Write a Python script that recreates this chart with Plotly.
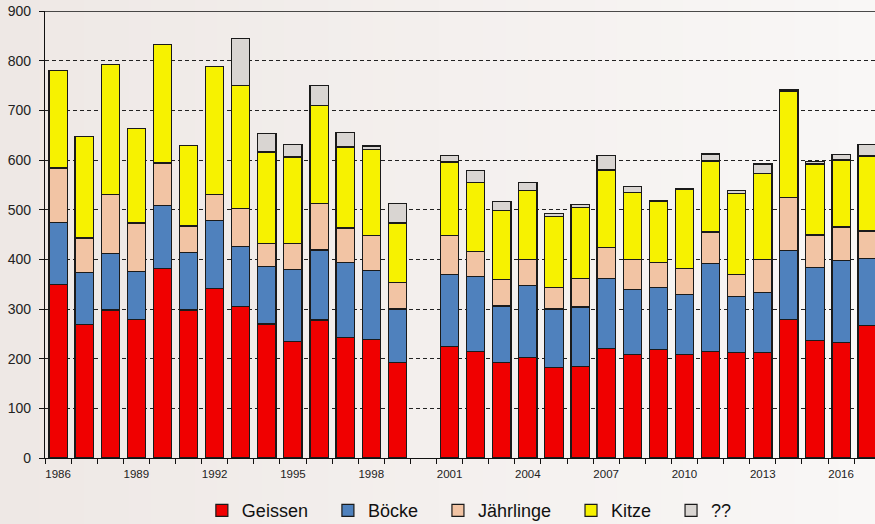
import plotly.graph_objects as go

# Jahre (2000 fehlt)
years = [1986, 1987, 1988, 1989, 1990, 1991, 1992, 1993, 1994, 1995, 1996,
         1997, 1998, 1999, 2001, 2002, 2003, 2004, 2005, 2006, 2007, 2008,
         2009, 2010, 2011, 2012, 2013, 2014, 2015, 2016, 2017]

geissen = [350, 268, 298, 279, 382, 298, 342, 305, 270, 235, 278,
           243, 239, 193, 225, 215, 192, 203, 182, 185, 220, 208,
           218, 208, 215, 213, 213, 279, 236, 233, 267]
boecke = [124, 106, 114, 97, 126, 116, 137, 121, 115, 144, 141,
          151, 138, 107, 145, 150, 114, 145, 118, 119, 141, 131,
          126, 122, 176, 112, 120, 138, 148, 165, 135]
jaehrlinge = [110, 69, 118, 97, 86, 53, 51, 77, 47, 53, 93,
              69, 71, 53, 78, 50, 53, 52, 44, 58, 63, 61,
              50, 52, 64, 44, 66, 107, 65, 67, 55]
kitze = [197, 204, 262, 190, 238, 162, 258, 247, 184, 174, 197,
         163, 173, 120, 148, 140, 139, 138, 142, 143, 156, 135,
         123, 159, 143, 163, 174, 215, 143, 135, 151]
unbekannt = [0, 0, 0, 0, 0, 0, 0, 95, 37, 25, 41,
             29, 7, 39, 13, 24, 18, 17, 6, 5, 29, 12,
             1, 1, 14, 6, 19, 3, 5, 11, 23]

series = [
    ("Geissen", geissen, "#F00000"),
    ("Böcke", boecke, "#4F81BD"),
    ("Jährlinge", jaehrlinge, "#F2C4A4"),
    ("Kitze", kitze, "#F7F200"),
    ("??", unbekannt, "#D9D5D2"),
]

tick_years = [1986, 1989, 1992, 1995, 1998, 2001, 2004, 2007, 2010, 2013, 2016]

FONT = "Arial, Liberation Sans, sans-serif"
PAD = "\u00a0" * 3  # extra space between legend entries

fig = go.Figure()
for i, (name, vals, color) in enumerate(series):
    label = name if i == len(series) - 1 else name + PAD
    fig.add_trace(go.Bar(
        x=years, y=vals, name=label, width=0.7,
        marker=dict(color=color, line=dict(color="#1a1a1a", width=1.2)),
    ))

# horizontal background gradient
n_strips = 40
c0 = (238, 232, 229)
c1 = (249, 247, 246)
for i in range(n_strips):
    t = i / (n_strips - 1)
    col = tuple(round(a + (b - a) * t) for a, b in zip(c0, c1))
    fig.add_shape(type="rect", xref="paper", yref="paper",
                  x0=-0.06 + i * 1.07 / n_strips, x1=-0.06 + (i + 1.05) * 1.07 / n_strips,
                  y0=-0.2, y1=1.05, line=dict(width=0),
                  fillcolor="rgb(%d,%d,%d)" % col, layer="below")

# solid top border at 900
fig.add_shape(type="line", xref="paper", yref="y", x0=0, x1=1, y0=900, y1=900,
              line=dict(color="#111111", width=1.5))

fig.update_layout(
    barmode="stack",
    width=875, height=524,
    margin=dict(l=45, r=0, t=11, b=66, autoexpand=False),
    paper_bgcolor="#F3EFED",
    plot_bgcolor="rgba(0,0,0,0)",
    font=dict(family=FONT, color="#222222"),
    bargap=0.3,
    legend=dict(orientation="h", x=0.189, xanchor="left", y=-0.118, yanchor="middle",
                font=dict(size=18, family=FONT, color="#111111"),
                bgcolor="rgba(0,0,0,0)", itemwidth=30, traceorder="normal"),
    showlegend=True,
)

fig.update_xaxes(
    range=[1985.5, 2017.3],
    tickmode="array", tickvals=tick_years, ticktext=[str(y) for y in tick_years],
    ticks="", tickfont=dict(size=11.5, family=FONT, color="#222222"),
    ticklabelstandoff=5,
    showline=True, linecolor="#111111", linewidth=1,
    showgrid=False, zeroline=False,
    minor=dict(tickmode="linear", tick0=1985.5, dtick=1, ticks="outside",
               ticklen=5, tickcolor="#111111", tickwidth=1, showgrid=False),
)

fig.update_yaxes(
    range=[0, 900], dtick=100, tick0=0,
    ticks="outside", ticklen=5, tickcolor="#111111",
    tickfont=dict(size=14, family=FONT, color="#222222"),
    ticklabelstandoff=5,
    showline=True, linecolor="#111111", linewidth=1.2,
    showgrid=True, gridcolor="#222222", gridwidth=1, griddash="4px,3px",
    zeroline=False,
)

fig.write_html("out.html")
